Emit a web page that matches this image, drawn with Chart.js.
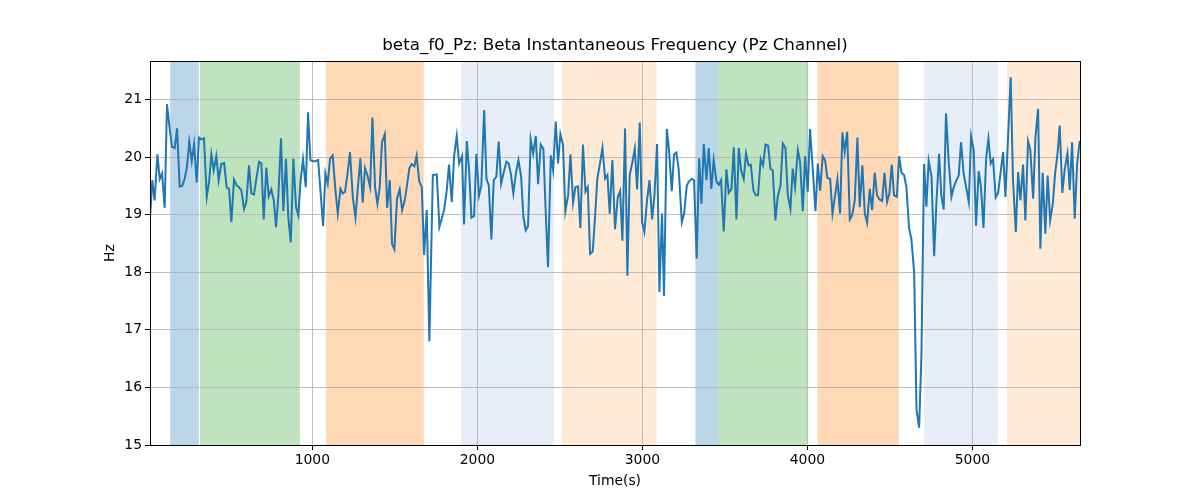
<!DOCTYPE html>
<html>
<head>
<meta charset="utf-8">
<script src="https://cdn.jsdelivr.net/npm/chart.js@4"></script>
<style>
  html, body { margin: 0; padding: 0; background: #fff; }
  #wrap { width: 1200px; height: 500px; }
</style>
</head>
<body>
<div id="wrap"><canvas id="f0-chart" width="1200" height="500"></canvas></div>
<script>
// time axis (s) and beta instantaneous frequency (Hz)
const times = [16,30,44,61,75,89,105,119,135,149,166,180,196,212,226,240,254,269,283,299,
  313,327,343,360,374,388,402,418,432,448,465,481,495,509,525,541,555,570,586,600,
  616,630,646,661,677,691,705,721,735,751,766,780,794,810,824,840,854,869,885,901,
  915,929,943,960,974,988,1004,1018,1035,1051,1065,1079,1093,1107,1123,1140,1154,1170,1184,1198,
  1214,1228,1245,1261,1275,1291,1305,1319,1333,1350,1364,1380,1394,1408,1422,1439,1453,1469,1483,1497,
  1513,1529,1544,1560,1574,1588,1602,1618,1632,1647,1663,1677,1693,1709,1730,1754,1770,1784,1798,1814,
  1828,1845,1859,1875,1889,1907,1919,1936,1950,1964,1980,1994,2010,2024,2041,2055,2069,2085,2099,2115,
  2129,2144,2160,2176,2190,2204,2218,2234,2249,2265,2279,2293,2307,2323,2338,2354,2368,2384,2400,2414,
  2428,2445,2459,2475,2489,2503,2519,2533,2550,2564,2580,2594,2610,2624,2640,2655,2669,2683,2699,2713,
  2727,2744,2758,2774,2788,2802,2818,2834,2851,2865,2879,2895,2909,2923,2940,2954,2968,2984,2998,3012,
  3028,3043,3059,3073,3089,3103,3119,3131,3148,3162,3178,3192,3206,3220,3239,3253,3269,3283,3299,3313,
  3329,3344,3358,3372,3388,3402,3418,3432,3449,3463,3477,3493,3509,3523,3540,3554,3570,3584,3598,3614,
  3628,3643,3657,3673,3687,3701,3717,3731,3746,3762,3776,3790,3806,3820,3837,3851,3867,3881,3897,3911,
  3925,3942,3956,3972,3986,4002,4016,4033,4049,4063,4077,4093,4107,4121,4138,4152,4168,4182,4198,4212,
  4226,4241,4257,4271,4287,4303,4317,4333,4348,4362,4378,4392,4408,4422,4436,4453,4467,4483,4497,4511,
  4525,4542,4556,4570,4586,4600,4616,4630,4647,4661,4677,4691,4707,4721,4735,4752,4768,4782,4798,4812,
  4826,4840,4857,4873,4887,4903,4917,4931,4947,4962,4978,4992,5008,5022,5038,5052,5067,5083,5097,5111,
  5125,5141,5156,5172,5186,5200,5216,5232,5246,5263,5277,5291,5307,5321,5337,5351,5368,5382,5398,5412,
  5426,5442,5456,5471,5487,5501,5517,5529,5545,5559,5576,5590,5604,5620,5634,5650];

const hz = [18.95,19.6,19.25,20.05,19.62,19.72,19.12,20.92,20.5,20.18,20.16,20.5,19.49,19.5,19.63,19.83,20.27,19.93,20.23,19.56,
  20.34,20.31,20.33,19.31,19.57,20.05,19.77,20.02,19.6,19.88,19.9,19.47,19.45,18.87,19.61,19.51,19.48,19.42,19.1,19.22,
  19.86,19.37,19.35,19.63,19.92,19.89,18.92,19.82,19.32,19.44,19.25,18.78,19.34,20.33,19.06,19.97,18.96,18.52,19.97,19.13,
  18.99,19.6,19.97,19.48,20.78,19.95,19.93,19.93,19.95,19.34,18.8,19.72,19.54,19.97,20.03,19.42,19.02,19.45,19.37,19.4,
  19.73,20.09,19.31,18.95,19.45,19.98,19.21,19.81,19.69,19.48,20.69,19.48,19.19,19.48,20.26,20.4,19.12,19.6,18.49,18.4,
  19.28,19.44,19.08,19.25,19.52,19.81,19.88,19.84,20.03,19.59,19.48,18.3,19.08,16.8,19.69,19.7,18.79,18.93,19.08,19.41,
  19.87,19.22,20.02,20.37,19.89,20.02,18.83,20.28,19.77,18.95,18.98,20.06,19.33,19.5,20.82,19.63,19.51,18.57,19.6,19.66,
  20.27,19.54,19.74,19.92,19.89,19.69,19.37,19.73,19.95,19.66,18.96,18.73,18.8,20.31,20.06,20.37,19.53,20.22,20.14,19.05,
  18.09,20.03,19.77,20.62,19.89,20.4,20.21,19.06,19.34,20.05,19.21,19.48,19.49,18.77,20.22,19.4,19.48,18.32,18.36,18.96,
  19.63,19.91,20.16,19.63,19.69,19.02,19.95,18.75,19.31,19.41,18.55,20.5,17.94,19.69,19.92,20.15,19.44,20.6,18.87,18.7,
  19.25,19.6,18.92,19.34,20.23,17.66,19.02,17.59,20.49,20.1,19.41,20.05,20.08,19.79,18.87,19.02,19.51,19.58,19.62,19.6,
  18.24,19.98,19.19,20.23,19.6,20.16,19.45,19.95,19.57,19.52,19.6,18.71,19.79,19.38,19.45,20.17,18.92,20.16,19.77,19.62,
  20.06,19.86,19.87,19.42,19.34,19.34,19.97,19.86,20.22,20.2,19.8,19.77,18.9,19.31,19.51,20.24,20.16,19.34,19.1,19.8,
  19.48,20.12,19.91,19.06,20.02,19.4,20.49,19.77,19.06,19.89,19.42,20.02,19.95,19.64,19.62,19.02,19.34,19.62,19.02,20.43,
  20.09,20.44,18.92,18.99,19.25,20.34,19.13,19.86,19.02,18.86,19.45,19.08,19.73,19.34,19.27,19.24,19.73,19.22,19.37,19.87,
  19.34,19.31,20.02,19.73,19.69,19.48,18.77,18.58,18.0,15.62,15.3,16.55,19.88,19.14,19.94,19.67,18.28,19.22,20.06,19.32,
  19.09,20.76,19.89,19.31,19.48,19.6,19.68,20.26,19.71,19.48,19.22,20.36,20.12,18.81,19.76,19.48,18.77,19.97,20.32,19.89,
  19.96,19.3,19.38,19.76,20.09,19.31,20.35,21.39,19.6,18.7,19.74,19.25,19.87,18.9,20.28,20.12,19.28,20.35,20.84,18.41,
  19.73,18.67,19.68,18.9,19.19,19.71,20.09,20.55,19.38,19.78,20.07,19.43,20.26,18.93,19.86,20.28];

// shaded segments (s)
const bandStarts = [138, 319, 1083, 1901, 2513, 3321, 3460, 4061, 4707, 5210];
const bandEnds   = [312, 924, 1675, 2465, 3087, 3460, 4000, 4554, 5154, 5700];
const bandColors = [
  'rgba(31,119,180,0.3)', 'rgba(44,160,44,0.3)', 'rgba(255,127,14,0.3)',
  'rgba(174,199,232,0.3)', 'rgba(255,187,120,0.3)',
  'rgba(31,119,180,0.3)', 'rgba(44,160,44,0.3)', 'rgba(255,127,14,0.3)',
  'rgba(174,199,232,0.3)', 'rgba(255,187,120,0.3)'
];

const xTicks = [1000, 2000, 3000, 4000, 5000];
const yTicks = [15, 16, 17, 18, 19, 20, 21];

// shaded spans under the grid
const bandPlugin = {
  id: 'bands',
  beforeDraw(chart) {
    const {ctx, chartArea, scales} = chart;
    ctx.save();
    ctx.beginPath();
    ctx.rect(chartArea.left, chartArea.top, chartArea.right - chartArea.left, chartArea.bottom - chartArea.top);
    ctx.clip();
    bandStarts.forEach(function(s, i) {
      const x0 = scales.x.getPixelForValue(s);
      const x1 = scales.x.getPixelForValue(bandEnds[i]);
      ctx.fillStyle = bandColors[i];
      ctx.fillRect(x0, chartArea.top, x1 - x0, chartArea.bottom - chartArea.top);
    });
    ctx.restore();
  }
};

// matplotlib style box around the axes
const framePlugin = {
  id: 'frame',
  afterDraw(chart) {
    const {ctx, chartArea} = chart;
    ctx.save();
    ctx.strokeStyle = '#000';
    ctx.lineWidth = 1;
    ctx.strokeRect(Math.round(chartArea.left) + 0.5, Math.round(chartArea.top) + 0.5,
      Math.round(chartArea.right - chartArea.left), Math.round(chartArea.bottom - chartArea.top));
    ctx.restore();
  }
};

Chart.defaults.font.family = "'DejaVu Sans', sans-serif";
Chart.defaults.color = '#000';

new Chart(document.getElementById('f0-chart'), {
  type: 'line',
  data: {
    datasets: [{
      data: times.map(function(t, i) { return {x: t, y: hz[i]}; }),
      borderColor: '#1f77b4',
      borderWidth: 2,
      pointRadius: 0,
      tension: 0,
      fill: false
    }]
  },
  options: {
    responsive: false,
    animation: false,
    layout: { padding: { left: 95, right: 120, top: 0, bottom: 0 } },
    plugins: {
      legend: { display: false },
      tooltip: { enabled: false },
      title: {
        display: true,
        fullSize: false, // centre over the plot area, like matplotlib
        text: 'beta_f0_Pz: Beta Instantaneous Frequency (Pz Channel)',
        font: { size: 16.7, weight: 'normal' },
        color: '#000',
        padding: { top: 36, bottom: 5 }
      }
    },
    scales: {
      x: {
        type: 'linear',
        min: 16,
        max: 5652,
        afterFit: function(scale) { scale.height = 55; },
        afterBuildTicks: function(scale) { scale.ticks = xTicks.map(function(v) { return {value: v}; }); },
        ticks: {
          font: { size: 13.9 }, padding: 2, maxRotation: 0, autoSkip: false,
          callback: function(value) { return String(value); }
        },
        grid: { color: '#b0b0b0', lineWidth: 0.8, tickColor: '#000', tickLength: 5, tickWidth: 1 },
        border: { display: true, color: '#000', width: 1 },
        title: { display: true, text: 'Time(s)', font: { size: 13.9 }, padding: { top: 0, bottom: 10 } }
      },
      y: {
        min: 15,
        max: 21.67,
        afterFit: function(scale) { scale.width = 55; },
        afterBuildTicks: function(scale) { scale.ticks = yTicks.map(function(v) { return {value: v}; }); },
        ticks: { font: { size: 13.9 }, padding: 3, autoSkip: false },
        grid: { color: '#b0b0b0', lineWidth: 0.8, tickColor: '#000', tickLength: 5, tickWidth: 1 },
        border: { display: true, color: '#000', width: 1 },
        title: { display: true, text: 'Hz', font: { size: 13.9 }, padding: { top: 7, bottom: 0 } }
      }
    }
  },
  plugins: [bandPlugin, framePlugin]
});
</script>
</body>
</html>
